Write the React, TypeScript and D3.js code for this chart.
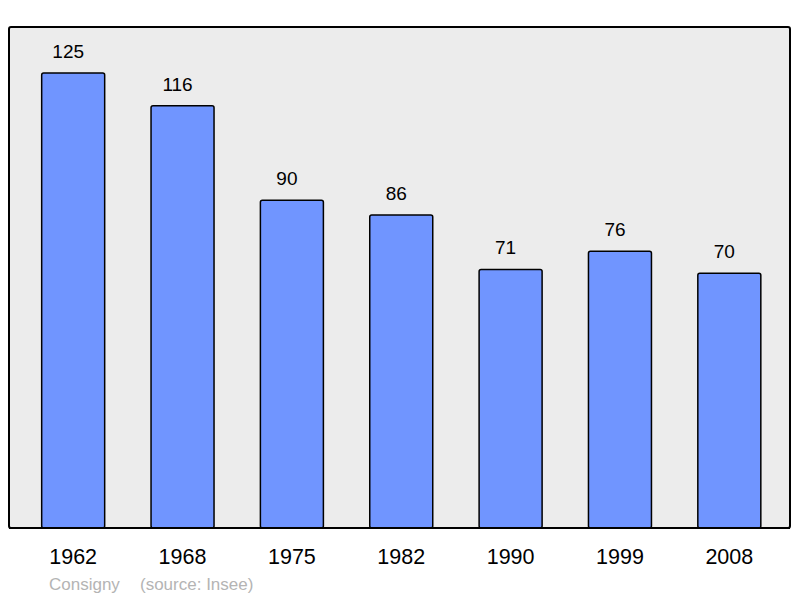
import React from 'react';
import * as d3 from 'd3';

const years = ['1962', '1968', '1975', '1982', '1990', '1999', '2008'];
const population = [125, 116, 90, 86, 71, 76, 70];
const townName = 'Consigny';
const sourceText = '(source: Insee)';

const width = 800;
const height = 598;
const panel = { left: 9, top: 27, right: 790, bottom: 528 };

function App() {
  const x = d3
    .scalePoint<string>()
    .domain(years)
    .range([18.5, 784])
    .padding(0.5);

  const y = d3
    .scaleLinear()
    .domain([0, 137.6])
    .range([panel.bottom, panel.top]);

  const barWidth = 63;
  const font = '"Liberation Sans", Arial, sans-serif';

  return (
    <svg
      width={width}
      height={height}
      style={{ position: 'absolute', left: 0, top: 0, display: 'block' }}
    >
      <rect x={0} y={0} width={width} height={height} fill="#fff" />
      <rect
        x={panel.left}
        y={panel.top}
        width={panel.right - panel.left}
        height={panel.bottom - panel.top}
        rx={2}
        fill="#ececec"
        stroke="#000"
        strokeWidth={2}
      />
      <g className="bars">
        {years.map((yr, i) => {
          const cx = x(yr) as number;
          const top = y(population[i]);
          return (
            <g key={yr}>
              <rect
                x={cx - barWidth / 2}
                y={top}
                width={barWidth}
                height={y(0) - top}
                rx={2}
                fill="#7095ff"
                stroke="#000"
                strokeWidth={1.5}
              />
              {/* value labels sit a little left of the bar centre */}
              <text
                x={cx - 5}
                y={top - 15}
                textAnchor="middle"
                fontFamily={font}
                fontSize={19}
                fill="#000"
              >
                {population[i]}
              </text>
              <text
                x={cx}
                y={564}
                textAnchor="middle"
                fontFamily={font}
                fontSize={21.5}
                fill="#000"
              >
                {yr}
              </text>
            </g>
          );
        })}
      </g>
      <line
        x1={panel.left}
        x2={panel.right}
        y1={panel.bottom}
        y2={panel.bottom}
        stroke="#000"
        strokeWidth={2}
      />
      <text x={49} y={590} fontFamily={font} fontSize={17} fill="#b4b4b4">
        {townName}
      </text>
      <text x={140} y={590} fontFamily={font} fontSize={17} fill="#b4b4b4">
        {sourceText}
      </text>
    </svg>
  );
}

export default App;
